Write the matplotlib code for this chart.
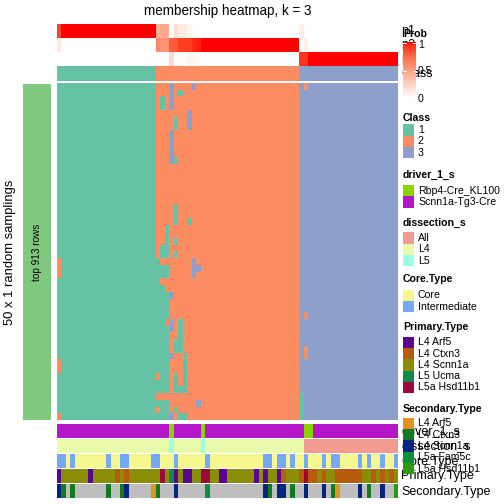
import numpy as np
import matplotlib.pyplot as plt
from matplotlib.patches import Rectangle

plt.rcParams['font.family'] = ['Liberation Sans', 'DejaVu Sans']

W, H = 504, 504

# ---- data ----------------------------------------------------------------
# class of each column (76 columns) and per-row deviations (50 samplings)
col_class = [1] * 22 + [2] * 32 + [3] * 22
row_changes = {
    0: {25: 3, 30: 3, 55: 2},
    1: {25: 3, 27: 1},
    2: {23: 1, 25: 3},
    3: {23: 1, 25: 3},
    4: {29: 3},
    5: {26: 1, 29: 3},
    6: {26: 1, 29: 3},
    7: {25: 3}, 8: {25: 3}, 9: {25: 3}, 10: {25: 3},
    11: {25: 3, 26: 1},
    18: {26: 1}, 19: {26: 1},
    20: {26: 1, 29: 1},
    21: {24: 1}, 22: {24: 1},
    23: {24: 1, 26: 1},
    24: {23: 1, 24: 1},
    25: {23: 1, 24: 1, 26: 1},
    26: {0: 2, 22: 1, 30: 3},
    27: {0: 2, 22: 1, 23: 1, 24: 1, 30: 3, 31: 3},
    28: {0: 2, 22: 1, 23: 1, 24: 1, 30: 3},
    29: {22: 1},
    30: {22: 1, 23: 1},
    31: {22: 1, 23: 1, 24: 1, 25: 3},
    32: {22: 1, 23: 1, 24: 1},
    33: {22: 1, 23: 1, 24: 1},
    34: {22: 1, 23: 1, 24: 1, 55: 2},
    35: {22: 1, 23: 1, 25: 3, 27: 1},
    36: {22: 1, 23: 1, 24: 1, 25: 3, 27: 1},
    37: {22: 1, 23: 1, 24: 1, 27: 1},
    38: {22: 1, 23: 1, 24: 1, 26: 1, 27: 1},
    39: {22: 1, 23: 1, 24: 1, 26: 1, 27: 1, 55: 2},
    40: {22: 1, 23: 1, 24: 1, 25: 3, 28: 1, 55: 2},
    41: {0: 2, 22: 1, 23: 1, 24: 1, 28: 1},
    42: {0: 2, 22: 1, 23: 1, 24: 1, 28: 1},
    43: {23: 1, 24: 1, 26: 1, 28: 1},
    44: {22: 1, 23: 1, 24: 1, 26: 1, 28: 1},
    45: {22: 1, 23: 1, 24: 1, 26: 1, 27: 1, 28: 1},
    46: {54: 1},
    47: {22: 1, 23: 1, 24: 1, 31: 3, 54: 1},
    48: {23: 1, 24: 1, 26: 1, 54: 1},
    49: {0: 2, 22: 1, 23: 1, 24: 1, 25: 3, 27: 1, 28: 1, 54: 1},
}
n_rows = 50

p1 = [0.88] + [1] * 21 + [0.4, 0.45, 0.45, 0, 0.18, 0.1, 0.1, 0.05] + [0] * 24 + [0.08] + [0] * 21
p2 = [0.12] + [0] * 21 + [0.6, 0.55, 0.55, 0.8, 0.8, 0.9, 0.9, 0.9, 0.95, 0.97] + [1] * 22 + [0, 0.08] + [0] * 20
p3 = [0] * 25 + [0.2, 0.02, 0, 0, 0.05, 0.05, 0.03] + [0] * 22 + [0.92, 0.92] + [1] * 20

# bottom annotations as (level, run length)
driver_runs = [('Scnn1a-Tg3-Cre', 25), ('Rbp4-Cre_KL100', 1), ('Scnn1a-Tg3-Cre', 6), ('Rbp4-Cre_KL100', 1),
               ('Scnn1a-Tg3-Cre', 22), ('Rbp4-Cre_KL100', 2), ('Scnn1a-Tg3-Cre', 19)]
dissection_runs = [('L4', 25), ('L5', 1), ('L4', 6), ('L5', 1), ('L4', 22), ('All', 21)]
core_runs = [('Intermediate', 2), ('Core', 1), ('Intermediate', 1), ('Core', 7), ('Intermediate', 1),
             ('Core', 2), ('Intermediate', 2), ('Core', 5), ('Intermediate', 2), ('Core', 3),
             ('Intermediate', 1), ('Core', 6), ('Intermediate', 1), ('Core', 12), ('Intermediate', 2),
             ('Core', 1), ('Intermediate', 2), ('Core', 1), ('Intermediate', 1), ('Core', 2),
             ('Intermediate', 1), ('Core', 3), ('Intermediate', 1), ('Core', 1), ('Intermediate', 2),
             ('Core', 4), ('Intermediate', 1), ('Core', 1), ('Intermediate', 1), ('Core', 2),
             ('Intermediate', 1), ('Core', 2), ('Intermediate', 1)]
primary_runs = [('L4 Arf5', 1), ('L4 Scnn1a', 6), ('L4 Arf5', 1), ('L4 Scnn1a', 5), ('L4 Ctxn3', 1),
                ('L4 Scnn1a', 1), ('L4 Ctxn3', 1), ('L4 Scnn1a', 7), ('L5a Hsd11b1', 1), ('L4 Scnn1a', 1),
                ('L5 Ucma', 1), ('L4 Arf5', 1), ('L4 Scnn1a', 1), ('L4 Arf5', 2), ('L4 Scnn1a', 2),
                ('L5a Hsd11b1', 2), ('L4 Scnn1a', 2), ('L4 Arf5', 2), ('L4 Scnn1a', 6), ('L4 Arf5', 1),
                ('L4 Scnn1a', 1), ('L4 Arf5', 1), ('L4 Scnn1a', 2), ('L4 Arf5', 1), ('L4 Ctxn3', 1),
                ('L4 Scnn1a', 3), ('L4 Ctxn3', 1), ('L5a Hsd11b1', 1), ('L4 Ctxn3', 2), ('L4 Scnn1a', 1),
                ('L4 Ctxn3', 1), ('L4 Scnn1a', 2), ('L4 Ctxn3', 6), ('L4 Scnn1a', 2), ('L4 Ctxn3', 1),
                ('L4 Scnn1a', 1), ('L4 Ctxn3', 1), ('L4 Scnn1a', 1), ('L4 Ctxn3', 1), ('L4 Scnn1a', 1)]
secondary_runs = [('L4 Scnn1a', 1), ('L4 Ctxn3', 1), (None, 1), ('L4 Ctxn3', 1), (None, 7), ('L4 Ctxn3', 1),
                  (None, 2), ('L4 Ctxn3', 1), ('L4 Scnn1a', 1), (None, 5), ('L4 Arf5', 1), ('L4 Ctxn3', 1),
                  (None, 3), ('L4 Scnn1a', 1), (None, 6), ('L5a Fam5c', 1), (None, 12), ('L4 Scnn1a', 1),
                  ('L4 Ctxn3', 1), (None, 1), ('L4 Scnn1a', 2), (None, 1), ('L4 Ctxn3', 1), (None, 2),
                  ('L4 Scnn1a', 1), (None, 3), ('L4 Scnn1a', 1), (None, 1), ('L4 Ctxn3', 1), ('L4 Arf5', 1),
                  (None, 4), ('L4 Scnn1a', 1), (None, 1), ('L4 Ctxn3', 1), (None, 2), ('L4 Scnn1a', 1),
                  (None, 2), ('L5a Hsd11b1', 1)]

# ---- colours --------------------------------------------------------------
class_colors = {1: '#66C2A5', 2: '#FC8D62', 3: '#8DA0CB'}
driver_colors = {'Rbp4-Cre_KL100': '#8AD400', 'Scnn1a-Tg3-Cre': '#B517C8'}
dissection_colors = {'All': '#F39B8F', 'L4': '#E7FBAA', 'L5': '#9AFFE0'}
core_colors = {'Core': '#F7F78F', 'Intermediate': '#77A8F8'}
primary_colors = {'L4 Arf5': '#5A0690', 'L4 Ctxn3': '#B85B0C', 'L4 Scnn1a': '#8A8E07',
                  'L5 Ucma': '#0E8A4E', 'L5a Hsd11b1': '#9C0939'}
secondary_colors = {'L4 Arf5': '#E3921A', 'L4 Ctxn3': '#117C1E', 'L4 Scnn1a': '#03247F',
                    'L5a Fam5c': '#0A913C', 'L5a Hsd11b1': '#2D9B10', None: '#BEBEBE'}


def hex_rgb(c):
    c = c.lstrip('#')
    return [int(c[i:i + 2], 16) / 255 for i in (0, 2, 4)]


M = np.array([[0.4124, 0.3576, 0.1805], [0.2126, 0.7152, 0.0722], [0.0193, 0.1192, 0.9505]])
WP = np.array([0.95047, 1.0, 1.08883])


def to_lab(c):
    c = np.asarray(c, float)
    lin = np.where(c <= 0.04045, c / 12.92, ((c + 0.055) / 1.055) ** 2.4)
    xyz = M @ lin / WP
    f = np.where(xyz > 0.008856, np.cbrt(xyz), 7.787 * xyz + 16 / 116)
    return np.array([116 * f[1] - 16, 500 * (f[0] - f[1]), 200 * (f[1] - f[2])])


def from_lab(lab):
    fy = (lab[0] + 16) / 116
    f = np.array([fy + lab[1] / 500, fy, fy - lab[2] / 200])
    xyz = np.where(f ** 3 > 0.008856, f ** 3, (f - 16 / 116) / 7.787) * WP
    lin = np.clip(np.linalg.solve(M, xyz), 0, 1)
    return np.where(lin <= 0.0031308, 12.92 * lin, 1.055 * lin ** (1 / 2.4) - 0.055)


LAB_W, LAB_R = to_lab([1, 1, 1]), to_lab([1, 0, 0])


def prob_color(v):
    return from_lab((1 - v) * LAB_W + v * LAB_R)


def expand(runs):
    out = []
    for lev, n in runs:
        out += [lev] * n
    return out


# ---- figure ---------------------------------------------------------------
fig = plt.figure(figsize=(7, 7), dpi=72)
ax = fig.add_axes([0, 0, 1, 1])

X0, X1 = 57.3, 398.3


def draw(rgb, y0, y1, x0=X0, x1=X1, z=1):
    ax.imshow(np.asarray(rgb), extent=(x0, x1, y1, y0), aspect='auto',
              interpolation='nearest', zorder=z)


# top: probabilities and class
draw([[prob_color(v) for v in p] for p in (p1, p2, p3)], 24, 66)
draw([[hex_rgb(class_colors[c]) for c in col_class]], 67, 81.5)

# main membership matrix
mat = np.array([col_class] * n_rows)
for r, ch in row_changes.items():
    for c, v in ch.items():
        mat[r, c] = v
draw([[hex_rgb(class_colors[v]) for v in row] for row in mat], 84, 420.3)

# left bar
ax.add_patch(Rectangle((23, 84), 28, 336.3, color='#7FC97F', lw=0))
ax.text(37, 252, 'top 913 rows', rotation=90, ha='center', va='center', fontsize=10)
ax.text(10, 252, '50 x 1 random samplings', rotation=90, ha='center', va='center', fontsize=13)

# bottom annotations
bottom = [('driver_1_s', driver_runs, driver_colors),
          ('dissection_s', dissection_runs, dissection_colors),
          ('Core.Type', core_runs, core_colors),
          ('Primary.Type', primary_runs, primary_colors),
          ('Secondary.Type', secondary_runs, secondary_colors)]
for k, (name, runs, cols) in enumerate(bottom):
    y0 = 424 + 15 * k
    draw([[hex_rgb(cols[v]) for v in expand(runs)]], y0, y0 + 14)
    ax.text(401, y0 + 7.5, name, fontsize=12.5, va='center', ha='left')

# row names of the top annotation
for name, yc in [('p1', 31), ('p2', 45), ('p3', 59), ('Class', 74)]:
    ax.text(401, yc, name, fontsize=12.5, va='center', ha='left')

ax.text(228, 11, 'membership heatmap, k = 3', fontsize=13.5, ha='center', va='center')

# ---- legends ----------------------------------------------------------------
LX = 403
ax.text(LX, 34, 'Prob', fontsize=10.5, fontweight='bold', va='center', zorder=5)
grad = np.linspace(1, 0, 100)
draw([[prob_color(v)] for v in grad], 42.7, 98.3, LX, LX + 12.4, z=5)
for v, lab in [(1, '1'), (0.5, '0.5'), (0, '0')]:
    yy = 98.3 - v * 55.6
    ax.plot([LX, LX + 2.5], [yy, yy], color='white', lw=1, zorder=6)
    ax.plot([LX + 9.9, LX + 12.4], [yy, yy], color='white', lw=1, zorder=6)
    ax.text(LX + 15, min(max(yy, 44.3), 99.5) + 0.5, lab, fontsize=10.5, va='center', zorder=6)

legends = [('Class', 118.3, 130, ['1', '2', '3'], [class_colors[i] for i in (1, 2, 3)]),
           ('driver_1_s', 175, 190.7, list(driver_colors), list(driver_colors.values())),
           ('dissection_s', 222.7, 238, list(dissection_colors), list(dissection_colors.values())),
           ('Core.Type', 279.3, 295.3, list(core_colors), list(core_colors.values())),
           ('Primary.Type', 327.3, 342.3, list(primary_colors), list(primary_colors.values())),
           ('Secondary.Type', 409, 423.3, [k for k in secondary_colors if k],
            [v for k, v in secondary_colors.items() if k])]
for title, ty, y1st, labs, cols in legends:
    ax.text(LX, ty, title, fontsize=10.5, fontweight='bold', va='center', zorder=5)
    for i, (lab, col) in enumerate(zip(labs, cols)):
        yc = y1st + 11.3 * i
        ax.add_patch(Rectangle((LX, yc - 5.65), 11.3, 11.3, color=col, lw=0, zorder=5))
        ax.text(LX + 15, yc, lab, fontsize=10.5, va='center', zorder=6)

ax.set_xlim(0, W)
ax.set_ylim(H, 0)
ax.axis('off')
fig.savefig('out.png', dpi=72)
